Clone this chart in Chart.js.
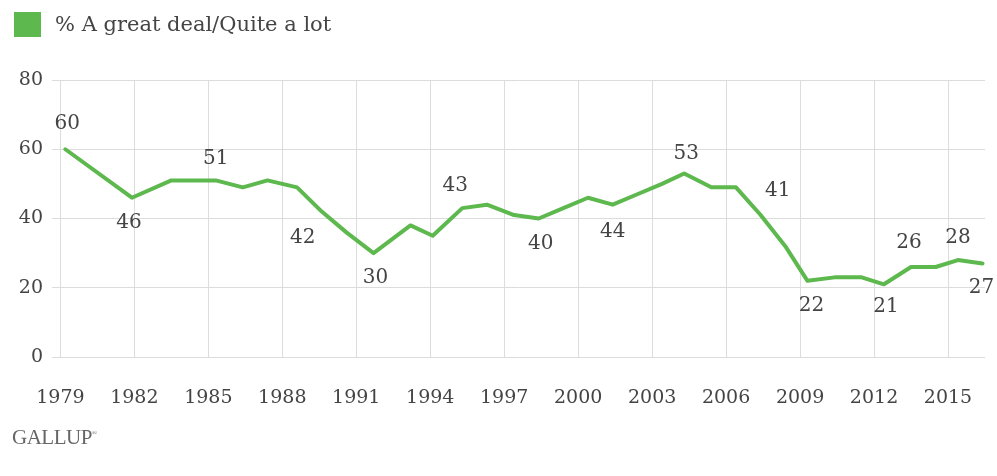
<!DOCTYPE html>
<html>
<head>
<meta charset="utf-8">
<script src="https://cdn.jsdelivr.net/npm/chart.js"></script>
<style>
  html, body { margin: 0; padding: 0; background: #fff; }
  #wrap { position: relative; width: 997px; height: 476px; }
  #legend { position: absolute; left: 14px; top: 12px; font: 21px "DejaVu Serif", serif; color: #444; line-height: 25px; white-space: nowrap; }
  #legend span.box { display: inline-block; width: 27px; height: 25px; background: #5db84e; vertical-align: top; margin-right: 14px; }
  #brand { position: absolute; left: 12px; top: 425px; font: 21px "Liberation Serif", serif; color: #666; letter-spacing: -0.5px; }
  #brand sup { font-size: 7px; vertical-align: 9px; }
</style>
</head>
<body>
<div id="wrap">
  <canvas id="chart" width="997" height="476"></canvas>
  <div id="legend"><span class="box"></span>% A great deal/Quite a lot</div>
  <div id="brand">GALLUP<sup>&reg;</sup></div>
</div>
<script>
// survey years and when in the year each poll was taken
var years = [1979,1981,1983,1984,1985,1986,1987,1988,1989,1990,1991,1993,1994,1995,1996,1997,1998,1999,2000,2001,2002,2003,2004,2005,2006,2007,2008,2009,2010,2011,2012,2013,2014,2015,2016]
var surveyDates = [1979.2,1981.9,1983.5,1984.4,1985.3,1986.4,1987.4,1988.6,1989.6,1990.6,1991.7,1993.2,1994.1,1995.3,1996.3,1997.4,1998.4,1999.4,2000.4,2001.4,2002.4,2003.4,2004.3,2005.4,2006.4,2007.4,2008.4,2009.3,2010.4,2011.5,2012.4,2013.5,2014.5,2015.4,2016.4]
var values = [60,46,51,51,51,49,51,49,42,36,30,38,35,43,44,41,40,43,46,44,47,50,53,49,49,41,32,22,23,23,21,26,26,28,27]

var tickYears = [1979,1982,1985,1988,1991,1994,1997,2000,2003,2006,2009,2012,2015]
var yTicks = [0,20,40,60,80]
var labeledYears = [1979,1981,1985,1989,1991,1995,1998,2001,2004,2007,2009,2012,2013,2015,2016]

var green = "#5db84e"
var serif = "'DejaVu Serif', serif"

// where each value label sits relative to its point
var labelOffsets = {
    1979: [2, -25], 1981: [-3, 25], 1985: [0, -22], 1989: [-19, 26],
    1991: [2, 25], 1995: [-7, -22], 1998: [2, 25], 2001: [0, 27],
    2004: [2, -20], 2007: [17, -24], 2009: [4, 25], 2012: [2, 23],
    2013: [-2, -24], 2015: [0, -22], 2016: [-1, 24]
}

var points = []
for (var i = 0; i < years.length; i++) {
    points.push({x: surveyDates[i], y: values[i]})
}

var valueLabels = {
    id: "valueLabels",
    afterDatasetsDraw: function(chart) {
        let ctx = chart.ctx
        let meta = chart.getDatasetMeta(0)
        ctx.save()
        ctx.font = "20px " + serif
        ctx.fillStyle = "#444"
        ctx.textAlign = "center"
        ctx.textBaseline = "middle"
        meta.data.forEach(function(pt, i) {
            let yr = years[i]
            if (labeledYears.indexOf(yr) == -1) return
            let off = labelOffsets[yr] || [0, -22]
            ctx.fillText(String(values[i]), pt.x + off[0], pt.y + off[1])
        })
        ctx.restore()
    }
}

new Chart("chart", {
    type: "line",
    data: {
        datasets: [{
            label: "% A great deal/Quite a lot",
            data: points,
            borderColor: green,
            backgroundColor: green,
            borderWidth: 4,
            pointRadius: 0,
            tension: 0,
            borderJoinStyle: "round",
            borderCapStyle: "round",
            fill: false
        }]
    },
    options: {
        responsive: false,
        animation: false,
        layout: { padding: { top: 80, right: 12, left: 0, bottom: 0 } },
        plugins: {
            legend: { display: false },
            tooltip: { enabled: false }
        },
        scales: {
            x: {
                type: "linear",
                min: 1978.66,
                max: 2016.5,
                afterBuildTicks: function(scale) {
                    scale.ticks = tickYears.map(function(v) { return {value: v} })
                },
                afterFit: function(scale) {
                    scale.height = 119
                    scale.paddingLeft = 0
                    scale.paddingRight = 0
                },
                grid: { color: "#dcdcdc", lineWidth: 1, drawTicks: false },
                border: { display: false },
                ticks: {
                    padding: 30,
                    color: "#444",
                    font: { family: serif, size: 19 },
                    maxRotation: 0,
                    autoSkip: false,
                    callback: function(v) { return String(v) }
                }
            },
            y: {
                min: 0,
                max: 80,
                afterBuildTicks: function(scale) {
                    scale.ticks = yTicks.map(function(v) { return {value: v} })
                },
                afterFit: function(scale) { scale.width = 52 },
                grid: { color: "#dcdcdc", lineWidth: 1, drawTicks: false },
                border: { display: false },
                ticks: {
                    padding: 9,
                    color: "#444",
                    font: { family: serif, size: 19 }
                }
            }
        }
    },
    plugins: [valueLabels]
});
</script>
</body>
</html>
